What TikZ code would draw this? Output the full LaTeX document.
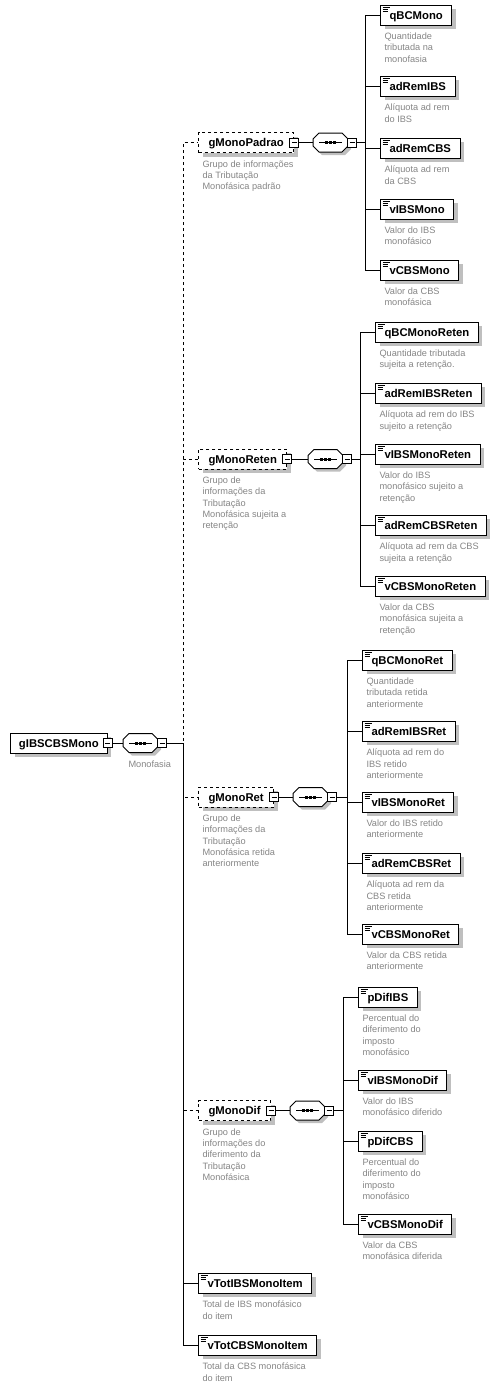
\documentclass[tikz,border=0pt]{standalone}
\usepackage{fontspec}
\setmainfont{Liberation Sans}
\usetikzlibrary{positioning,shadows}
\newcommand\nmfont{\fontsize{11.3}{13}\selectfont\bfseries}
\newcommand\dsfont{\fontsize{9.2}{11.3}\selectfont}
% sequence symbol drawn on a seqbox node
\newcommand\seqsym[1]{%
  \draw[fill=white,drop shadow={shadow xshift=3pt,shadow yshift=-3pt,fill=black!25,opacity=1}]
    ([xshift=6pt]#1.north west) -- ([xshift=-6pt]#1.north east) -- ([yshift=-6pt]#1.north east)
    -- ([yshift=6pt]#1.south east) -- ([xshift=-6pt]#1.south east) -- ([xshift=6pt]#1.south west)
    -- ([yshift=6pt]#1.south west) -- ([yshift=-6pt]#1.north west) -- cycle;
  \draw ([xshift=6pt]#1.west) -- ([xshift=-6pt]#1.east);
  \foreach \dx in {-3.8,0,3.8}
    \fill ([xshift=\dx pt]#1.center) +(-1.5pt,-1.5pt) rectangle +(1.5pt,1.5pt);}

\begin{document}
\begin{tikzpicture}
[x=1pt,y=-1pt,line width=1pt,%
  boxshadow/.style={drop shadow={shadow xshift=4pt,shadow yshift=-4pt,fill=black!25,opacity=1}},%
  elem/.style={rectangle,draw,fill=white,anchor=west,minimum height=20pt,inner xsep=9pt,inner ysep=0pt,%
    text height=8pt,text depth=0pt,font=\nmfont,boxshadow},%
  leaf/.style={elem,path picture={%
    \draw[line width=0.7pt] ([shift={(2pt,-2.5pt)}]path picture bounding box.north west) -- ++(7pt,0pt)
      ([shift={(2pt,-4.5pt)}]path picture bounding box.north west) -- ++(5pt,0pt)
      ([shift={(2pt,-6.5pt)}]path picture bounding box.north west) -- ++(5pt,0pt);}},%
  grp/.style={elem,dashed,inner xsep=10pt},%
  minusbox/.style={rectangle,draw,fill=white,minimum size=9pt,inner sep=0pt,path picture={%
    \draw ([xshift=2pt]path picture bounding box.west) -- ([xshift=-2pt]path picture bounding box.east);}},%
  seqbox/.style={rectangle,minimum width=35pt,minimum height=19pt,inner sep=0pt,outer sep=0pt},%
  descr/.style={font=\dsfont,text=black!48,align=left,inner sep=0pt,execute at begin node=\strut}]
\useasboundingbox (0,0) rectangle (496,1387);

% spines
\coordinate (rootSpine) at (183,743);
\coordinate (padSpine) at (365,142.5);
\coordinate (retenSpine) at (360,459);
\coordinate (retSpine) at (347,797);
\coordinate (difSpine) at (343,1110.5);

% root
\node[elem,inner xsep=8.5pt] (gIBSCBSMono) at (10,743) {gIBSCBSMono};
\node[minusbox] (gIBSCBSMonoM) at (gIBSCBSMono.east) {};
\node[minusbox,left=16pt of rootSpine] (rootSeqM) {};
\node[seqbox,left=-1pt of rootSeqM] (rootSeq) {};
\seqsym{rootSeq}
\node[minusbox] at (rootSeqM) {};
\node[descr,below right=7pt and 5pt of rootSeq.south west] (rootSeqD) {Monofasia};
\draw (gIBSCBSMonoM) -- (rootSeq);

% gMonoPadrao
\node[grp] (gMonoPadrao) at (198,142.5) {gMonoPadrao};
\node[minusbox] (gMonoPadraoM) at (gMonoPadrao.east) {};
\node[minusbox,left=8pt of padSpine] (padSeqM) {};
\node[seqbox,left=-1pt of padSeqM] (padSeq) {};
\seqsym{padSeq}
\node[minusbox] at (padSeqM) {};
\node[descr,below right=7pt and 4pt of gMonoPadrao.south west] (gMonoPadraoD)
  {Grupo de informações\\da Tributação\\Monofásica padrão};
\draw (gMonoPadraoM) -- (padSeq);

\node[leaf,xshift=15pt] (qBCMono) at (padSpine |- 0,15) {qBCMono};
\node[descr,below right=7pt and 4pt of qBCMono.south west] (qBCMonoD) {Quantidade\\tributada na\\monofasia};
\node[leaf,xshift=15pt] (adRemIBS) at (padSpine |- 0,86) {adRemIBS};
\node[descr,below right=7pt and 4pt of adRemIBS.south west] (adRemIBSD) {Alíquota ad rem\\do IBS};
\node[leaf,xshift=15pt] (adRemCBS) at (padSpine |- 0,148) {adRemCBS};
\node[descr,below right=7pt and 4pt of adRemCBS.south west] (adRemCBSD) {Alíquota ad rem\\da CBS};
\node[leaf,xshift=15pt] (vIBSMono) at (padSpine |- 0,209) {vIBSMono};
\node[descr,below right=7pt and 4pt of vIBSMono.south west] (vIBSMonoD) {Valor do IBS\\monofásico};
\node[leaf,xshift=15pt] (vCBSMono) at (padSpine |- 0,270) {vCBSMono};
\node[descr,below right=7pt and 4pt of vCBSMono.south west] (vCBSMonoD) {Valor da CBS\\monofásica};
\draw (padSeqM.east) -- (padSpine) |- (qBCMono.west);
\draw (padSeqM.east) -- (padSpine) |- (adRemIBS.west);
\draw (padSeqM.east) -- (padSpine) |- (adRemCBS.west);
\draw (padSeqM.east) -- (padSpine) |- (vIBSMono.west);
\draw (padSeqM.east) -- (padSpine) |- (vCBSMono.west);

% gMonoReten
\node[grp] (gMonoReten) at (198,459) {gMonoReten};
\node[minusbox] (gMonoRetenM) at (gMonoReten.east) {};
\node[minusbox,left=8pt of retenSpine] (retenSeqM) {};
\node[seqbox,left=-1pt of retenSeqM] (retenSeq) {};
\seqsym{retenSeq}
\node[minusbox] at (retenSeqM) {};
\node[descr,below right=7pt and 4pt of gMonoReten.south west] (gMonoRetenD)
  {Grupo de\\informações da\\Tributação\\Monofásica sujeita a\\retenção};
\draw (gMonoRetenM) -- (retenSeq);

\node[leaf,xshift=15pt] (qBCMonoReten) at (retenSpine |- 0,332) {qBCMonoReten};
\node[descr,below right=7pt and 4pt of qBCMonoReten.south west] (qBCMonoRetenD) {Quantidade tributada\\sujeita a retenção.};
\node[leaf,xshift=15pt] (adRemIBSReten) at (retenSpine |- 0,393) {adRemIBSReten};
\node[descr,below right=7pt and 4pt of adRemIBSReten.south west] (adRemIBSRetenD) {Alíquota ad rem do IBS\\sujeito a retenção};
\node[leaf,xshift=15pt] (vIBSMonoReten) at (retenSpine |- 0,454) {vIBSMonoReten};
\node[descr,below right=7pt and 4pt of vIBSMonoReten.south west] (vIBSMonoRetenD) {Valor do IBS\\monofásico sujeito a\\retenção};
\node[leaf,xshift=15pt] (adRemCBSReten) at (retenSpine |- 0,525) {adRemCBSReten};
\node[descr,below right=7pt and 4pt of adRemCBSReten.south west] (adRemCBSRetenD) {Alíquota ad rem da CBS\\sujeita a retenção};
\node[leaf,xshift=15pt] (vCBSMonoReten) at (retenSpine |- 0,586) {vCBSMonoReten};
\node[descr,below right=7pt and 4pt of vCBSMonoReten.south west] (vCBSMonoRetenD) {Valor da CBS\\monofásica sujeita a\\retenção};
\draw (retenSeqM.east) -- (retenSpine) |- (qBCMonoReten.west);
\draw (retenSeqM.east) -- (retenSpine) |- (adRemIBSReten.west);
\draw (retenSeqM.east) -- (retenSpine) |- (vIBSMonoReten.west);
\draw (retenSeqM.east) -- (retenSpine) |- (adRemCBSReten.west);
\draw (retenSeqM.east) -- (retenSpine) |- (vCBSMonoReten.west);

% gMonoRet
\node[grp] (gMonoRet) at (198,797) {gMonoRet};
\node[minusbox] (gMonoRetM) at (gMonoRet.east) {};
\node[minusbox,left=10pt of retSpine] (retSeqM) {};
\node[seqbox,left=-1pt of retSeqM] (retSeq) {};
\seqsym{retSeq}
\node[minusbox] at (retSeqM) {};
\node[descr,below right=7pt and 4pt of gMonoRet.south west] (gMonoRetD)
  {Grupo de\\informações da\\Tributação\\Monofásica retida\\anteriormente};
\draw (gMonoRetM) -- (retSeq);

\node[leaf,xshift=15pt] (qBCMonoRet) at (retSpine |- 0,660) {qBCMonoRet};
\node[descr,below right=7pt and 4pt of qBCMonoRet.south west] (qBCMonoRetD) {Quantidade\\tributada retida\\anteriormente};
\node[leaf,xshift=15pt] (adRemIBSRet) at (retSpine |- 0,731) {adRemIBSRet};
\node[descr,below right=7pt and 4pt of adRemIBSRet.south west] (adRemIBSRetD) {Alíquota ad rem do\\IBS retido\\anteriormente};
\node[leaf,xshift=15pt] (vIBSMonoRet) at (retSpine |- 0,802) {vIBSMonoRet};
\node[descr,below right=7pt and 4pt of vIBSMonoRet.south west] (vIBSMonoRetD) {Valor do IBS retido\\anteriormente};
\node[leaf,xshift=15pt] (adRemCBSRet) at (retSpine |- 0,863) {adRemCBSRet};
\node[descr,below right=7pt and 4pt of adRemCBSRet.south west] (adRemCBSRetD) {Alíquota ad rem da\\CBS retida\\anteriormente};
\node[leaf,xshift=15pt] (vCBSMonoRet) at (retSpine |- 0,934) {vCBSMonoRet};
\node[descr,below right=7pt and 4pt of vCBSMonoRet.south west] (vCBSMonoRetD) {Valor da CBS retida\\anteriormente};
\draw (retSeqM.east) -- (retSpine) |- (qBCMonoRet.west);
\draw (retSeqM.east) -- (retSpine) |- (adRemIBSRet.west);
\draw (retSeqM.east) -- (retSpine) |- (vIBSMonoRet.west);
\draw (retSeqM.east) -- (retSpine) |- (adRemCBSRet.west);
\draw (retSeqM.east) -- (retSpine) |- (vCBSMonoRet.west);

% gMonoDif
\node[grp] (gMonoDif) at (198,1110.5) {gMonoDif};
\node[minusbox] (gMonoDifM) at (gMonoDif.east) {};
\node[minusbox,left=9pt of difSpine] (difSeqM) {};
\node[seqbox,left=-1pt of difSeqM] (difSeq) {};
\seqsym{difSeq}
\node[minusbox] at (difSeqM) {};
\node[descr,below right=7pt and 4pt of gMonoDif.south west] (gMonoDifD)
  {Grupo de\\informações do\\diferimento da\\Tributação\\Monofásica};
\draw (gMonoDifM) -- (difSeq);

\node[leaf,xshift=15pt] (pDifIBS) at (difSpine |- 0,997) {pDifIBS};
\node[descr,below right=7pt and 4pt of pDifIBS.south west] (pDifIBSD) {Percentual do\\diferimento do\\imposto\\monofásico};
\node[leaf,xshift=15pt] (vIBSMonoDif) at (difSpine |- 0,1080) {vIBSMonoDif};
\node[descr,below right=7pt and 4pt of vIBSMonoDif.south west] (vIBSMonoDifD) {Valor do IBS\\monofásico diferido};
\node[leaf,xshift=15pt] (pDifCBS) at (difSpine |- 0,1141) {pDifCBS};
\node[descr,below right=7pt and 4pt of pDifCBS.south west] (pDifCBSD) {Percentual do\\diferimento do\\imposto\\monofásico};
\node[leaf,xshift=15pt] (vCBSMonoDif) at (difSpine |- 0,1224) {vCBSMonoDif};
\node[descr,below right=7pt and 4pt of vCBSMonoDif.south west] (vCBSMonoDifD) {Valor da CBS\\monofásica diferida};
\draw (difSeqM.east) -- (difSpine) |- (pDifIBS.west);
\draw (difSeqM.east) -- (difSpine) |- (vIBSMonoDif.west);
\draw (difSeqM.east) -- (difSpine) |- (pDifCBS.west);
\draw (difSeqM.east) -- (difSpine) |- (vCBSMonoDif.west);

% totals
\node[leaf] (vTotIBSMonoItem) at (198,1283) {vTotIBSMonoItem};
\node[descr,below right=7pt and 4pt of vTotIBSMonoItem.south west] (vTotIBSMonoItemD) {Total de IBS monofásico\\do item};
\node[leaf] (vTotCBSMonoItem) at (198,1345) {vTotCBSMonoItem};
\node[descr,below right=7pt and 4pt of vTotCBSMonoItem.south west] (vTotCBSMonoItemD) {Total da CBS monofásica\\do item};

% root spine
\draw[dashed] (rootSeqM.east) -- (rootSpine) |- (gMonoPadrao.west);
\draw[dashed] (rootSeqM.east) -- (rootSpine) |- (gMonoReten.west);
\draw[dashed] (rootSeqM.east) -- (rootSpine) |- (gMonoRet.west);
\draw[dashed] (rootSeqM.east) -- (rootSpine) |- (gMonoDif.west);
\draw (rootSeqM.east) -- (rootSpine) |- (vTotIBSMonoItem.west);
\draw (rootSeqM.east) -- (rootSpine) |- (vTotCBSMonoItem.west);
\end{tikzpicture}
\end{document}
